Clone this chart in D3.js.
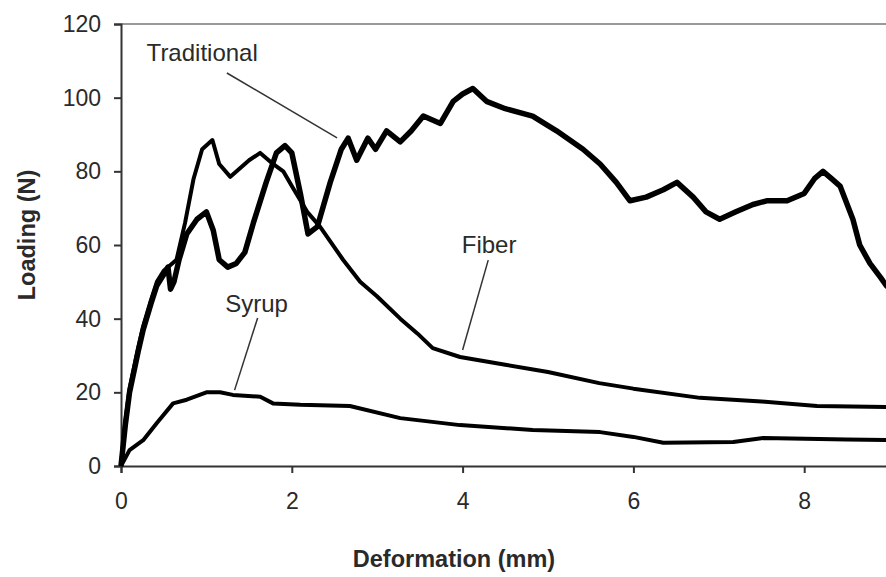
<!DOCTYPE html>
<html>
<head>
<meta charset="utf-8">
<script src="https://cdn.jsdelivr.net/npm/d3@7"></script>
<style>
  body { margin: 0; background: #fff; overflow: hidden; }
  svg text { font-family: "Liberation Sans", Arial, sans-serif; fill: #2a2a2a; }
  .axis path, .axis line { stroke: #333; stroke-width: 2; }
  .axis text { font-size: 23px; }
  .title { font-size: 23.5px; font-weight: bold; }
  .note { font-size: 24px; }
</style>
</head>
<body>
<svg id="chart" width="886" height="577"></svg>
<script>
// values: [deformation mm, loading N]
const traditional = [
  [0,0],[0.05,11],[0.1,20],[0.2,31],[0.26,37],[0.35,44],[0.42,49],[0.5,52],[0.55,54],
  [0.58,48],[0.62,50],[0.68,56],[0.77,63],[0.89,67],[1.0,69],[1.08,64],[1.15,56],
  [1.25,54],[1.35,55],[1.45,58],[1.55,66],[1.7,77],[1.82,85],[1.92,87],[2.0,85],
  [2.1,74],[2.19,63],[2.3,65],[2.45,77],[2.58,86],[2.66,89],[2.76,83],[2.89,89],
  [2.98,86],[3.11,91],[3.27,88],[3.4,91],[3.54,95],[3.74,93],[3.89,99],[4.0,101],
  [4.12,102.5],[4.28,99],[4.5,97],[4.82,95],[5.1,91],[5.41,86],[5.61,82],[5.8,77],
  [5.96,72],[6.15,73],[6.35,75],[6.51,77],[6.7,73],[6.85,69],[7.01,67],[7.2,69],
  [7.4,71],[7.56,72],[7.8,72],[8.0,74],[8.12,78],[8.22,80],[8.32,78],[8.42,76],
  [8.57,67],[8.65,60],[8.77,55],[8.9,51],[8.96,49],[9.1,46]
];
const fiber = [
  [0,0],[0.05,12],[0.1,21],[0.2,32],[0.26,38],[0.35,45],[0.42,50],[0.5,53],[0.6,55],
  [0.65,56],[0.75,66],[0.85,78],[0.95,86],[1.07,88.5],[1.15,82],[1.28,78.5],[1.4,81],
  [1.5,83],[1.63,85],[1.78,82],[1.9,80],[2.0,76],[2.18,69],[2.33,65],[2.6,56],
  [2.8,50],[3.0,46],[3.27,40],[3.47,36],[3.65,32],[3.97,29.6],[4.5,27.5],[5.0,25.5],
  [5.6,22.5],[6.0,21],[6.78,18.5],[7.5,17.5],[8.15,16.3],[9.1,16]
];
const syrup = [
  [0,0],[0.1,4.3],[0.26,7],[0.42,11.7],[0.61,17],[0.77,18],[1.0,20],[1.16,20],
  [1.31,19.3],[1.63,18.8],[1.78,17],[2.1,16.6],[2.68,16.3],[3.27,13],[3.97,11.1],
  [4.82,9.8],[5.61,9.2],[6.0,7.9],[6.35,6.3],[7.17,6.5],[7.52,7.6],[8.5,7.2],[9.1,7]
];

const xTicks = [0, 2, 4, 6, 8];
const yTicks = [0, 20, 40, 60, 80, 100, 120];

// labels with their leader lines, in data units
const notes = [
  {text: "Traditional", at: [0.3, 110], from: [1.24, 106.7], to: [2.53, 89.1]},
  {text: "Syrup", at: [1.22, 41.8], from: [1.60, 40.2], to: [1.33, 20.6]},
  {text: "Fiber", at: [3.99, 57.8], from: [4.30, 55.9], to: [4.0, 31.5]}
];

const svg = d3.select("#chart");
const plotLeft = 121, plotTop = 24, plotBottom = 466;

const x = d3.scaleLinear().domain([0, 10]).range([plotLeft, plotLeft + 854]);
const y = d3.scaleLinear().domain([0, 120]).range([plotBottom, plotTop]);

// top frame line
svg.append("line")
  .attr("x1", x(0)).attr("x2", x(10))
  .attr("y1", y(120)).attr("y2", y(120))
  .style("stroke", "#999").style("stroke-width", 2);

svg.append("g")
  .attr("class", "axis")
  .attr("transform", "translate(0," + plotBottom + ")")
  .call(d3.axisBottom(x).tickValues(xTicks).tickSizeOuter(0).tickSize(7).tickPadding(20));

svg.append("g")
  .attr("class", "axis")
  .attr("transform", "translate(" + plotLeft + ",0)")
  .call(d3.axisLeft(y).tickValues(yTicks).tickSizeOuter(0).tickSize(7).tickPadding(13));

const line = d3.line()
  .x(d => x(d[0]))
  .y(d => y(d[1]));

svg.append("path").datum(syrup)
  .attr("d", line).attr("fill", "none")
  .style("stroke", "#000").style("stroke-width", 4).style("stroke-linejoin", "round");

svg.append("path").datum(fiber)
  .attr("d", line).attr("fill", "none")
  .style("stroke", "#000").style("stroke-width", 4).style("stroke-linejoin", "round");

svg.append("path").datum(traditional)
  .attr("d", line).attr("fill", "none")
  .style("stroke", "#000").style("stroke-width", 5.5).style("stroke-linejoin", "round");

notes.forEach(n => {
  svg.append("line")
    .attr("x1", x(n.from[0])).attr("y1", y(n.from[1]))
    .attr("x2", x(n.to[0])).attr("y2", y(n.to[1]))
    .style("stroke", "#333").style("stroke-width", 1.5);
  svg.append("text")
    .attr("class", "note")
    .attr("x", x(n.at[0])).attr("y", y(n.at[1]))
    .text(n.text);
});

svg.append("text")
  .attr("class", "title")
  .attr("x", 454).attr("y", 567)
  .attr("text-anchor", "middle")
  .text("Deformation (mm)");

svg.append("text")
  .attr("class", "title")
  .attr("transform", "translate(35,235) rotate(-90)")
  .attr("text-anchor", "middle")
  .text("Loading (N)");
</script>
</body>
</html>
